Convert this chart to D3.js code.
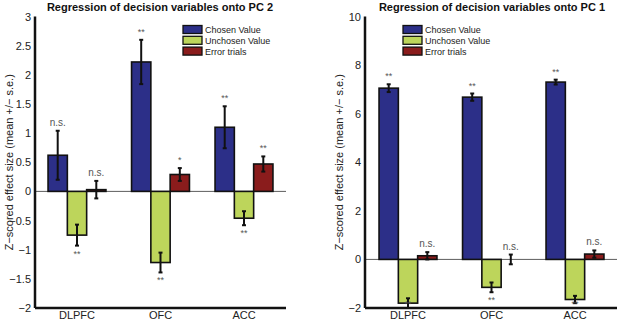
<!DOCTYPE html>
<html>
<head>
<meta charset="utf-8">
<script src="https://cdn.jsdelivr.net/npm/d3@7"></script>
<style>
  body { margin: 0; background: #fff; }
  svg { font-family: "Liberation Sans", Arial, sans-serif; }
</style>
</head>
<body>
<div id="chart"></div>
<script>
const W = 617, H = 320;

// data
const regions = ["DLPFC", "OFC", "ACC"];
const series = ["Chosen Value", "Unchosen Value", "Error trials"];
const colors = ["#2c2f88", "#bdd55b", "#8a1c1c"];

// PC 2 panel (left)
const pc2Mean = [[0.62, -0.75, 0.03], [2.22, -1.22, 0.29], [1.10, -0.46, 0.47]];
const pc2Se   = [[0.42, 0.18, 0.15], [0.38, 0.17, 0.11], [0.36, 0.12, 0.13]];
const pc2Sig  = [["n.s.", "**", "n.s."], ["**", "**", "*"], ["**", "**", "**"]];
const pc2Ticks = [-2, -1.5, -1, -0.5, 0, 0.5, 1, 1.5, 2, 2.5, 3];

// PC 1 panel (right)
const pc1Mean = [[7.05, -1.80, 0.15], [6.68, -1.15, 0.00], [7.30, -1.65, 0.22]];
const pc1Se   = [[0.16, 0.20, 0.15], [0.15, 0.20, 0.20], [0.10, 0.15, 0.15]];
const pc1Sig  = [["**", "**", "n.s."], ["**", "**", "n.s."], ["**", "**", "n.s."]];
const pc1Ticks = [-2, 0, 2, 4, 6, 8, 10];

const svg = d3.select("#chart").append("svg")
  .attr("width", W).attr("height", H);

function panel(opt) {
  const g = svg.append("g");
  const y = d3.scaleLinear().domain(opt.domain).range([308, 16.5]);
  const x = d3.scalePoint().domain(regions).range(opt.centers);
  const bw = 19.3;

  // zero line
  g.append("line")
    .attr("x1", opt.left).attr("x2", opt.right)
    .attr("y1", y(0)).attr("y2", y(0))
    .attr("stroke", "#333").attr("stroke-width", 0.8);

  regions.forEach((r, i) => {
    series.forEach((s, j) => {
      const m = opt.mean[i][j], se = opt.se[i][j];
      const cx = x(r) + (j - 1) * bw;
      g.append("rect")
        .attr("x", cx - bw / 2)
        .attr("y", Math.min(y(m), y(0)))
        .attr("width", bw)
        .attr("height", Math.abs(y(m) - y(0)))
        .attr("fill", colors[j])
        .attr("stroke", "#111").attr("stroke-width", 1.6);
      // error bar
      g.append("line")
        .attr("x1", cx).attr("x2", cx)
        .attr("y1", y(m - se)).attr("y2", y(m + se))
        .attr("stroke", "#111").attr("stroke-width", 2);
      [m - se, m + se].forEach(v => {
        g.append("line")
          .attr("x1", cx - 2).attr("x2", cx + 2)
          .attr("y1", y(v)).attr("y2", y(v))
          .attr("stroke", "#111").attr("stroke-width", 2);
      });
      // significance label
      const up = m >= 0;
      g.append("text")
        .attr("x", cx)
        .attr("y", up ? y(m + se) - 5 : Math.min(y(m - se) + 11, 307))
        .attr("text-anchor", "middle")
        .attr("font-size", opt.sig[i][j] === "n.s." ? 10 : 9)
        .attr("fill", "#555")
        .text(opt.sig[i][j]);
    });
  });

  // axes
  g.append("line")
    .attr("x1", opt.left).attr("x2", opt.left)
    .attr("y1", y(opt.domain[1])).attr("y2", 308)
    .attr("stroke", "#111").attr("stroke-width", 2.5);
  g.append("line")
    .attr("x1", opt.left).attr("x2", opt.right)
    .attr("y1", 308).attr("y2", 308)
    .attr("stroke", "#111").attr("stroke-width", 2.5);

  opt.ticks.forEach(t => {
    g.append("text")
      .attr("x", opt.left - 4).attr("y", y(t) + 4)
      .attr("text-anchor", "end").attr("font-size", 11)
      .attr("fill", "#222")
      .text(String(t).replace("-", "\u2212"));
  });

  regions.forEach(r => {
    g.append("text")
      .attr("x", x(r)).attr("y", 319)
      .attr("text-anchor", "middle").attr("font-size", 11)
      .attr("fill", "#222").text(r);
  });

  // y label
  g.append("text")
    .attr("transform", `translate(${opt.left - 22},${(16.5 + 308) / 2}) rotate(-90)`)
    .attr("text-anchor", "middle").attr("font-size", 11)
    .attr("fill", "#222")
    .text("Z\u2212scored effect size (mean +/\u2212 s.e.)");

  // title
  g.append("text")
    .attr("x", opt.titleX).attr("y", 11)
    .attr("text-anchor", "middle").attr("font-size", 11)
    .attr("font-weight", "bold").attr("fill", "#111")
    .text(opt.title);

  // legend
  series.forEach((s, j) => {
    g.append("rect")
      .attr("x", opt.legX).attr("y", 25.5 + j * 10.8)
      .attr("width", 19).attr("height", 8)
      .attr("fill", colors[j]).attr("stroke", "#111").attr("stroke-width", 1.3);
    g.append("text")
      .attr("x", opt.legX + 22).attr("y", 33 + j * 10.8)
      .attr("font-size", 9).attr("fill", "#222").text(s);
  });
}

panel({
  domain: [-2, 3], ticks: pc2Ticks, mean: pc2Mean, se: pc2Se, sig: pc2Sig,
  left: 35, right: 286, centers: [77, 244], titleX: 160, legX: 183,
  title: "Regression of decision variables onto PC 2"
});
panel({
  domain: [-2, 10], ticks: pc1Ticks, mean: pc1Mean, se: pc1Se, sig: pc1Sig,
  left: 365, right: 617, centers: [408, 575], titleX: 492, legX: 403,
  title: "Regression of decision variables onto PC 1"
});
</script>
</body>
</html>
